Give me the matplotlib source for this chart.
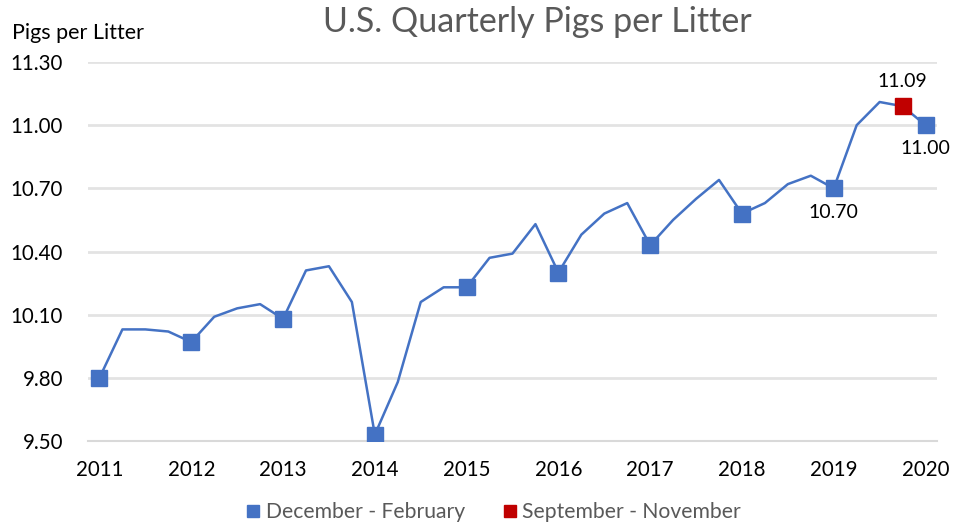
import matplotlib.pyplot as plt
from matplotlib.lines import Line2D
import numpy as np

plt.rcParams['font.family'] = ['Lato', 'DejaVu Sans']

# quarterly pigs per litter, Dec-Feb 2011 through Dec-Feb 2020
values = [9.80, 10.03, 10.03, 10.02,
          9.97, 10.09, 10.13, 10.15,
          10.08, 10.31, 10.33, 10.16,
          9.53, 9.78, 10.16, 10.23,
          10.23, 10.37, 10.39, 10.53,
          10.30, 10.48, 10.58, 10.63,
          10.43, 10.55, 10.65, 10.74,
          10.58, 10.63, 10.72, 10.76,
          10.70, 11.00, 11.11, 11.09,
          11.00]
years = [str(y) for y in range(2011, 2021)]
dec_feb_idx = list(range(0, len(values), 4))   # December - February quarters
sep_nov_idx = [35]                              # latest September - November
labeled = {32: ('10.70', 'below'), 35: ('11.09', 'above'), 36: ('11.00', 'below')}

blue = '#4472C4'
red = '#C00000'
grid_col = '#E3E3E3'
text_gray = '#595959'

x = np.arange(len(values))
vals = np.array(values)

fig = plt.figure(figsize=(9.57, 5.25), dpi=100)
ax = fig.add_axes([88/957, 1 - 441/525, (937 - 88)/957, (441 - 62)/525])

ax.plot(x, vals, color=blue, lw=1.8, zorder=3)
ax.plot(x[dec_feb_idx], vals[dec_feb_idx], 's', color=blue, ms=11, lw=0, zorder=4)
ax.plot(x[sep_nov_idx], vals[sep_nov_idx], 's', color=red, ms=11, lw=0, zorder=4)

for i, (txt, pos) in labeled.items():
    if pos == 'above':
        ax.annotate(txt, (x[i], vals[i]), xytext=(0, 12), textcoords='offset points',
                    ha='center', va='bottom', fontsize=14, color='black')
    else:
        ax.annotate(txt, (x[i], vals[i]), xytext=(0, -11), textcoords='offset points',
                    ha='center', va='top', fontsize=14, color='black')

ax.set_xlim(-0.5, len(values) - 0.5)
ax.set_ylim(9.5, 11.3)
ax.set_yticks(np.arange(9.5, 11.31, 0.3))
ax.set_yticklabels([f'{v:.2f}' for v in np.arange(9.5, 11.31, 0.3)])
ax.set_xticks(dec_feb_idx)
ax.set_xticklabels(years)
ax.tick_params(axis='both', length=0, labelsize=14.8, colors='black')
ax.tick_params(axis='y', pad=18)
ax.tick_params(axis='x', pad=14)

ax.grid(axis='y', color=grid_col, lw=2)
ax.set_axisbelow(True)
for s in ['top', 'right', 'left']:
    ax.spines[s].set_visible(False)
ax.spines['bottom'].set_color('#D9D9D9')
ax.spines['bottom'].set_linewidth(1.5)

fig.text(537/957, 1 - 22/525, 'U.S. Quarterly Pigs per Litter', ha='center', va='center',
         fontsize=24.5, color=text_gray)
fig.text(12/957, 1 - 33/525, 'Pigs per Litter', ha='left', va='center', fontsize=15.5,
         color='black')

handles = [Line2D([], [], marker='s', color=blue, ls='none', ms=9),
           Line2D([], [], marker='s', color=red, ls='none', ms=9)]
fig.legend(handles, ['December - February', 'September - November'],
           loc='center', bbox_to_anchor=(494/957, 1 - 512/525), ncol=2, frameon=False,
           fontsize=15.2, labelcolor=text_gray, handlelength=0.6, handletextpad=0.3,
           columnspacing=1.8)

fig.savefig('out.png', dpi=100)
